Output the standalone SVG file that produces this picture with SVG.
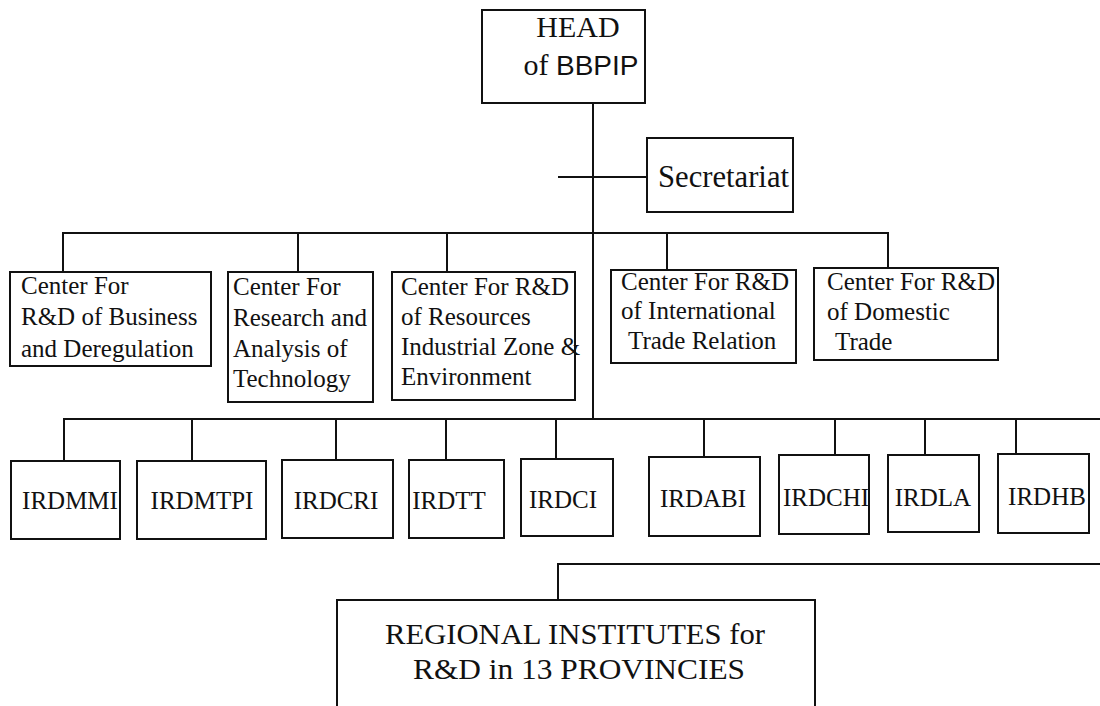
<svg xmlns="http://www.w3.org/2000/svg" width="1100" height="706" viewBox="0 0 1100 706">
<style>
.box{fill:#fff;stroke:#111;stroke-width:2}
.ln{fill:none;stroke:#111;stroke-width:2}
.t{font-family:"Liberation Serif","Times New Roman",serif;fill:#111;font-size:25px}
.ird{font-family:"Liberation Serif","Times New Roman",serif;fill:#111;font-size:25px;text-anchor:middle}
</style>
<rect width="1100" height="706" fill="#fff"/>
<g id="connectors">
<path class="ln" d="M593,103 V419"/>
<path class="ln" d="M558,177 H647"/>
<path class="ln" d="M63,272 V233 H888 V268"/>
<path class="ln" d="M298,233 V272 M447,233 V272 M667,233 V270"/>
<path class="ln" d="M64,461 V419 H1100"/>
<path class="ln" d="M192,419 V461 M336,419 V460 M446,419 V460 M556,419 V459 M704,419 V457 M835,419 V455 M925,419 V455 M1016,419 V454"/>
<path class="ln" d="M558,600 V564 H1100"/>
</g>
<g id="head">
<rect class="box" x="482" y="10" width="163" height="93"/>
<text class="t" x="578" y="37" font-size="30" text-anchor="middle" style="font-size:30px">HEAD</text>
<text class="t" x="581" y="75" text-anchor="middle" style="font-size:30px">of <tspan font-family="Liberation Sans, Arial, sans-serif" style="font-family:'Liberation Sans',Arial,sans-serif;font-size:28px">BBPIP</tspan></text>
</g>
<g id="secretariat">
<rect class="box" x="647" y="138" width="146" height="74"/>
<text class="t" x="658" y="187" style="font-size:31px" textLength="131" lengthAdjust="spacingAndGlyphs">Secretariat</text>
</g>
<g id="center1">
<rect class="box" x="10" y="272" width="201" height="94"/>
<text class="t" x="21" y="294">Center For</text>
<text class="t" x="21" y="325">R&amp;D of Business</text>
<text class="t" x="21" y="357">and Deregulation</text>
</g>
<g id="center2">
<rect class="box" x="228" y="272" width="145" height="130"/>
<text class="t" x="233" y="295">Center For</text>
<text class="t" x="233" y="326">Research and</text>
<text class="t" x="233" y="357">Analysis of</text>
<text class="t" x="233" y="387">Technology</text>
</g>
<g id="center3">
<rect class="box" x="392" y="272" width="183" height="128"/>
<text class="t" x="401" y="295">Center For R&amp;D</text>
<text class="t" x="401" y="325">of Resources</text>
<text class="t" x="401" y="355">Industrial Zone &amp;</text>
<text class="t" x="401" y="385">Environment</text>
</g>
<g id="center4">
<rect class="box" x="611" y="270" width="185" height="93"/>
<text class="t" x="621" y="290">Center For R&amp;D</text>
<text class="t" x="621" y="319">of International</text>
<text class="t" x="628" y="349">Trade Relation</text>
</g>
<g id="center5">
<rect class="box" x="814" y="268" width="184" height="92"/>
<text class="t" x="827" y="290">Center For R&amp;D</text>
<text class="t" x="827" y="320">of Domestic</text>
<text class="t" x="835" y="350">Trade</text>
</g>
<g id="irdmmi"><rect class="box" x="11" y="461" width="109" height="78"/><text class="ird" x="70" y="509">IRDMMI</text></g>
<g id="irdmtpi"><rect class="box" x="137" y="461" width="129" height="78"/><text class="ird" x="202" y="509">IRDMTPI</text></g>
<g id="irdcri"><rect class="box" x="282" y="460" width="111" height="78"/><text class="ird" x="336" y="509">IRDCRI</text></g>
<g id="irdtt"><rect class="box" x="409" y="460" width="95" height="78"/><text class="ird" x="449" y="509">IRDTT</text></g>
<g id="irdci"><rect class="box" x="521" y="459" width="92" height="77"/><text class="ird" x="563" y="508">IRDCI</text></g>
<g id="irdabi"><rect class="box" x="649" y="457" width="111" height="79"/><text class="ird" x="703" y="507">IRDABI</text></g>
<g id="irdchi"><rect class="box" x="779" y="455" width="90" height="79"/><text class="ird" x="826" y="506">IRDCHI</text></g>
<g id="irdla"><rect class="box" x="888" y="455" width="91" height="77"/><text class="ird" x="933" y="506">IRDLA</text></g>
<g id="irdhb"><rect class="box" x="998" y="454" width="91" height="79"/><text class="ird" x="1047" y="505">IRDHB</text></g>
<g id="regional">
<rect class="box" x="337" y="600" width="478" height="120"/>
<text class="t" x="575" y="644" text-anchor="middle" style="font-size:29px" textLength="380" lengthAdjust="spacingAndGlyphs">REGIONAL INSTITUTES for</text>
<text class="t" x="579" y="679" text-anchor="middle" style="font-size:29px" textLength="332" lengthAdjust="spacingAndGlyphs">R&amp;D in 13 PROVINCIES</text>
</g>
</svg>
